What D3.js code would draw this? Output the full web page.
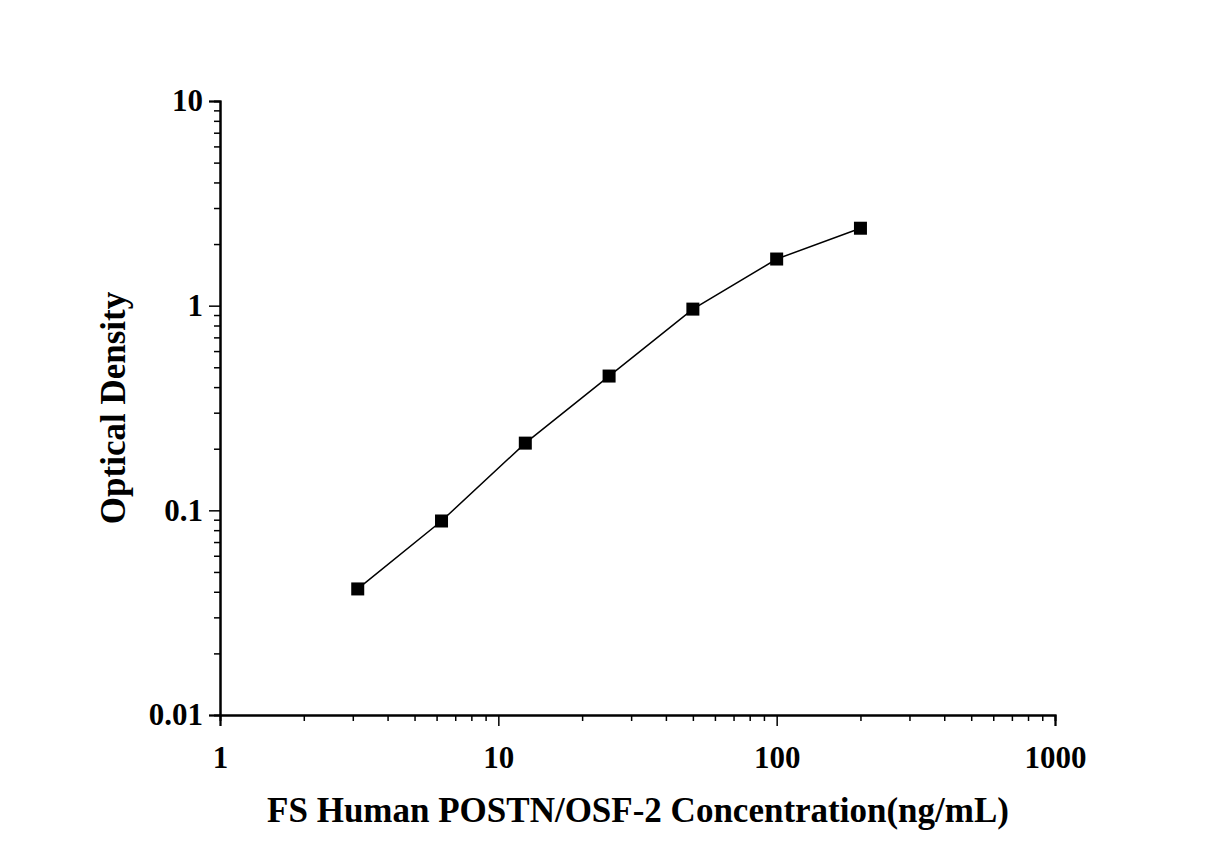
<!DOCTYPE html>
<html><head><meta charset="utf-8">
<script src="https://cdn.jsdelivr.net/npm/d3@7"></script>
<style>body{margin:0;background:#fff}text{font-family:"Liberation Serif",serif;font-weight:bold}</style>
</head><body><div id="chart"></div>
<script>
const conc = [3.125, 6.25, 12.5, 25, 50, 100, 200];
const od = [0.0413, 0.0887, 0.213, 0.453, 0.962, 1.69, 2.39];
const xTicks = [1, 10, 100, 1000];
const yTicks = [0.01, 0.1, 1, 10];

const W = 1225, H = 857;
const svg = d3.select("#chart").append("svg").attr("width", W).attr("height", H);
const x = d3.scaleLog().domain([1, 1000]).range([220, 1055]);
const y = d3.scaleLog().domain([0.01, 10]).range([715, 101]);

function minors(dom) {
  const out = [];
  for (let d = dom[0]; d < dom[1]; d *= 10)
    for (let k = 2; k < 10; k++) out.push(d * k);
  return out;
}

const gx = svg.append("g").attr("transform", "translate(0,715)");
gx.call(d3.axisBottom(x).tickValues(minors([1, 1000])).tickSize(6).tickFormat(""));
gx.call(g => g.append("g").call(d3.axisBottom(x).tickValues(xTicks).tickSize(11).tickFormat(d3.format("d"))));
gx.selectAll("path").attr("stroke-width", 2);
gx.selectAll("line").attr("stroke-width", 1.5);
gx.selectAll("text").attr("font-size", 31).attr("dy", "1.25em").attr("fill", "#000");

const gy = svg.append("g").attr("transform", "translate(220,0)");
gy.call(d3.axisLeft(y).tickValues(minors([0.01, 10])).tickSize(6).tickFormat(""));
gy.call(g => g.append("g").call(d3.axisLeft(y).tickValues(yTicks).tickSize(11).tickFormat(d => d)));
gy.selectAll("path").attr("stroke-width", 2);
gy.selectAll("line").attr("stroke-width", 1.5);
gy.selectAll("text").attr("font-size", 31).attr("fill", "#000").attr("dx", "-0.1em");

const line = d3.line().x((d, i) => x(conc[i])).y(d => y(d));
svg.append("path").datum(od).attr("d", line).attr("fill", "none").attr("stroke", "#000").attr("stroke-width", 1.5);
svg.selectAll("rect.pt").data(od).join("rect").attr("class", "pt")
  .attr("x", (d, i) => x(conc[i]) - 6.5).attr("y", d => y(d) - 6.5)
  .attr("width", 13).attr("height", 13).attr("fill", "#000");

svg.append("text").attr("x", 638).attr("y", 822).attr("text-anchor", "middle")
  .attr("font-size", 35).text("FS Human POSTN/OSF-2 Concentration(ng/mL)");
svg.append("text").attr("transform", "translate(125,408) rotate(-90)").attr("text-anchor", "middle")
  .attr("font-size", 35).text("Optical Density");
</script></body></html>
